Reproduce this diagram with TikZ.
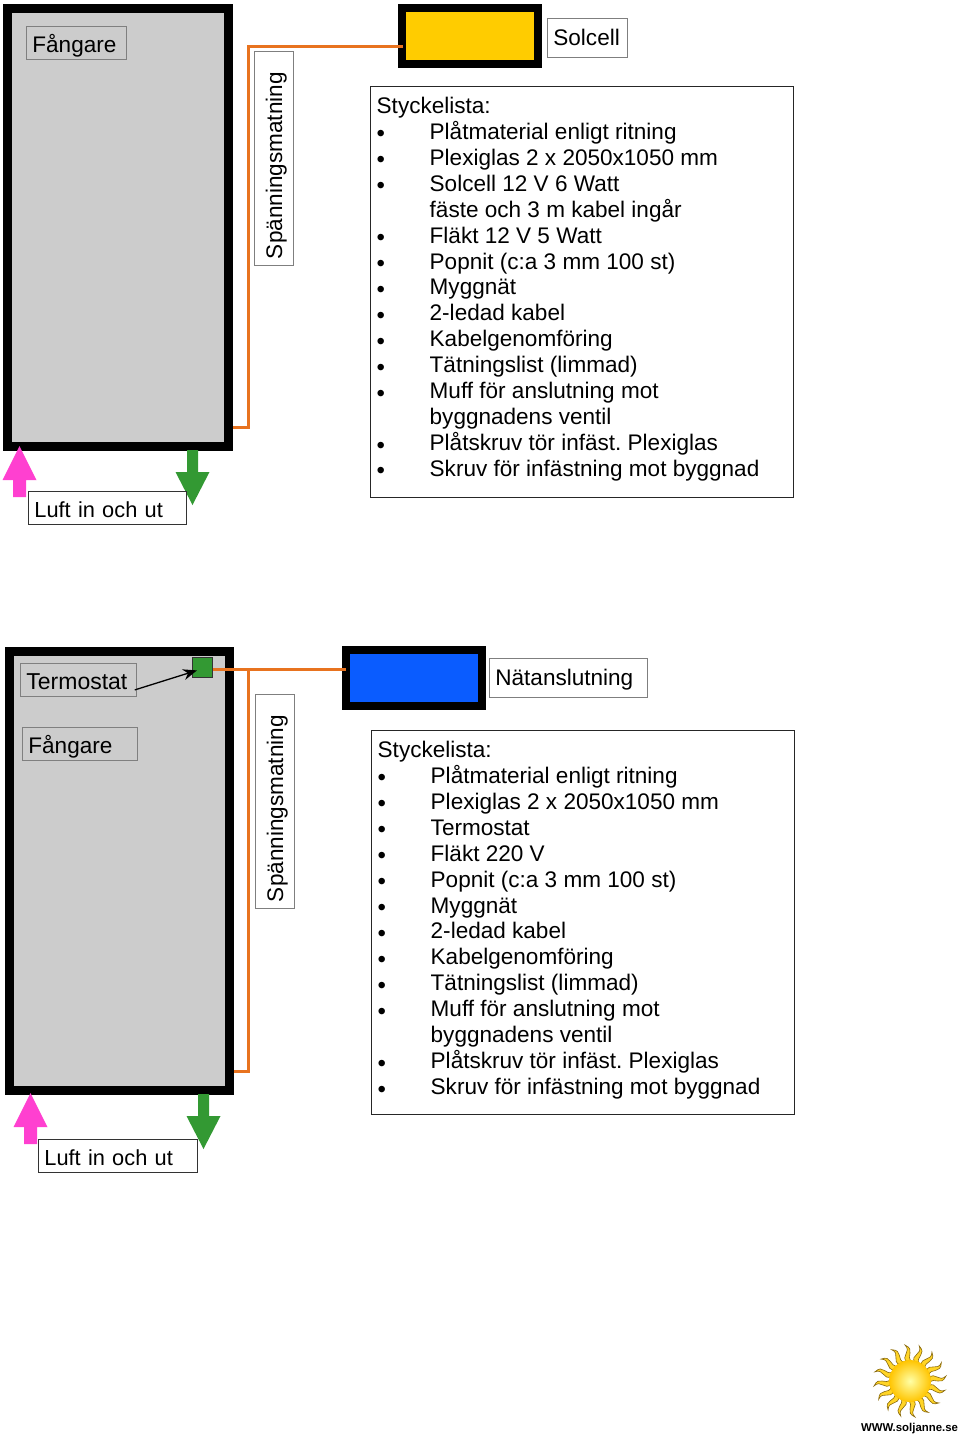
\documentclass[tikz,border=0pt]{standalone}
\usepackage{fontspec}
\setmainfont{Liberation Sans}
\usepackage{xcolor}
\usetikzlibrary{arrows.meta}
\definecolor{mPanel}{HTML}{CCCCCC}
\definecolor{mEdge}{HTML}{7F7F7F}
\definecolor{mWire}{HTML}{E8731F}
\definecolor{mSun}{HTML}{FFCC00}
\definecolor{mMains}{HTML}{0A5CFF}
\definecolor{mPink}{HTML}{FF40D0}
\definecolor{mGreen}{HTML}{339933}
\definecolor{mRay}{HTML}{8A6A10}
\newcommand{\listfont}{\fontsize{22.55}{25.92}\selectfont\frenchspacing}
\newcommand{\bul}{\makebox[53pt][l]{\fontsize{24}{25.92}\selectfont\raisebox{-2.5pt}{\textbullet}}}
\begin{document}
\begin{tikzpicture}[x=1pt, y=-1pt, font=\listfont,
  collector/.style={draw=black, line width=9pt, fill=mPanel, inner sep=0pt, anchor=north west},
  source/.style={draw=black, line width=8pt, inner sep=0pt, anchor=north west, minimum width=136pt, minimum height=56pt},
  lbl/.style={draw=mEdge, line width=0.8pt, inner ysep=0pt, inner xsep=6pt, text height=20pt, text depth=0pt, align=left, anchor=north west},
  listbox/.style={draw=black!85, line width=0.8pt, inner sep=0pt, anchor=north west, minimum width=423pt},
  listtext/.style={inner sep=0pt, anchor=north west, align=left},
  wire/.style={draw=mWire, line width=3pt},
  airin/.pic={\fill[mPink] (0,0) -- (17,34) -- (6.5,34) -- (6.5,51) -- (-6.5,51) -- (-6.5,34) -- (-17,34) -- cycle;},
  airout/.pic={\fill[mGreen] (0,55) -- (17,22) -- (5.5,22) -- (5.5,0) -- (-5.5,0) -- (-5.5,22) -- (-17,22) -- cycle;},
  sunray/.style={fill=mSun!85!white, draw=mRay, line width=0.6pt}]
\useasboundingbox (0,0) rectangle (960,1436);
% upper collector
\node[collector, minimum width=220.5pt, minimum height=438pt] (frame1) at (3,4) {};
\pic at (19.5,446) {airin};
\pic at (192.5,450) {airout};
\node[lbl, fill=mPanel, text width=88pt, minimum height=33pt] (catch1) at (26,26) {Fångare};
\node[lbl, fill=white, draw=black!80, text width=146pt, minimum height=33pt, font=\fontsize{21.8}{26}\selectfont] (air1) at (28,491) {Luft in och ut};
% upper supply
\node[source, fill=mSun] (cell1) at (398,4) {};
\node[lbl, fill=white, text width=68pt, minimum height=39pt, text height=16pt] (cellname) at (547,18) {Solcell};
\coordinate (wire1top) at (248,46);
\coordinate (wire1foot) at (248,427);
\draw[wire, shorten <=-5pt] (cell1.west |- wire1top) -- (wire1top) -- (wire1foot) -- (frame1.east |- wire1foot);
\node[lbl, rotate=90, anchor=center, fill=white, text width=202pt, minimum height=39pt, text height=17pt] (volt1) at (273.5,158) {Spänningsmatning};
% upper parts
\node[listbox, minimum height=411pt] (parts1) at (370,86) {};
\node[listtext] (partsA) at (376.5,97) {Styckelista:\\
\bul Plåtmaterial enligt ritning\\
\bul Plexiglas 2 x 2050x1050 mm\\
\bul Solcell 12 V 6 Watt\\
\hspace{53pt}fäste och 3 m kabel ingår\\
\bul Fläkt 12 V 5 Watt\\
\bul Popnit (c:a 3 mm 100 st)\\
\bul Myggnät\\
\bul 2-ledad kabel\\
\bul Kabelgenomföring\\
\bul Tätningslist (limmad)\\
\bul Muff för anslutning mot\\
\hspace{53pt}byggnadens ventil\\
\bul Plåtskruv tör infäst. Plexiglas\\
\bul Skruv för infästning mot byggnad};
% lower collector
\node[collector, minimum width=220pt, minimum height=439pt] (frame2) at (5,647) {};
\pic at (30.5,1093) {airin};
\pic at (203.5,1094) {airout};
\node[lbl, fill=mPanel, text width=104pt, minimum height=33pt, font=\fontsize{23}{26}\selectfont] (statname) at (20,663) {Termostat};
\node[lbl, fill=mPanel, text width=103pt, minimum height=33pt] (catch2) at (22,727) {Fångare};
\node[lbl, fill=white, draw=black!80, text width=147pt, minimum height=33pt, font=\fontsize{21.8}{26}\selectfont] (air2) at (38,1139) {Luft in och ut};
\node[draw=black!80, fill=mGreen, line width=0.8pt, inner sep=0pt, minimum size=20pt, anchor=north west] (stat) at (192,657) {};
\draw[-{Stealth[length=14pt,width=11pt]}, line width=1.3pt] ([xshift=-2pt,yshift=-10pt]statname.east) -- ([xshift=5pt,yshift=-3pt]stat.west);
% lower supply
\node[source, fill=mMains] (cell2) at (342,646) {};
\node[lbl, fill=white, text width=146pt, minimum height=39pt, text height=16pt] (mainsname) at (489,658) {Nätanslutning};
\coordinate (wire2top) at (248,669.5);
\coordinate (wire2foot) at (248,1071);
\draw[wire, shorten >=-4pt] (stat.east |- wire2top) -- (cell2.west |- wire2top);
\draw[wire] (wire2top) -- (wire2foot) -- (frame2.east |- wire2foot);
\node[lbl, rotate=90, anchor=center, fill=white, text width=202pt, minimum height=39pt, text height=17pt] (volt2) at (274.5,801) {Spänningsmatning};
% lower parts
\node[listbox, minimum height=384pt] (parts2) at (371,730) {};
\node[listtext] (partsB) at (377.5,741) {Styckelista:\\
\bul Plåtmaterial enligt ritning\\
\bul Plexiglas 2 x 2050x1050 mm\\
\bul Termostat\\
\bul Fläkt 220 V\\
\bul Popnit (c:a 3 mm 100 st)\\
\bul Myggnät\\
\bul 2-ledad kabel\\
\bul Kabelgenomföring\\
\bul Tätningslist (limmad)\\
\bul Muff för anslutning mot\\
\hspace{53pt}byggnadens ventil\\
\bul Plåtskruv tör infäst. Plexiglas\\
\bul Skruv för infästning mot byggnad};
% sun
\foreach \a in {0,22.5,...,337.5}
  \draw[sunray, rotate around={\a:(910,1381)}] (907,1362) .. controls (900,1356) and (912,1352) .. (905,1345) .. controls (916,1350) and (905,1356) .. (912,1362) -- cycle;
\shade[inner color=yellow!35!white, outer color=mSun!90!orange] (910,1381) circle (21);
\node[font=\fontsize{11.4}{14}\selectfont\bfseries, inner sep=0pt] (site) at (909.5,1429) {WWW.soljanne.se};
\end{tikzpicture}
\end{document}
